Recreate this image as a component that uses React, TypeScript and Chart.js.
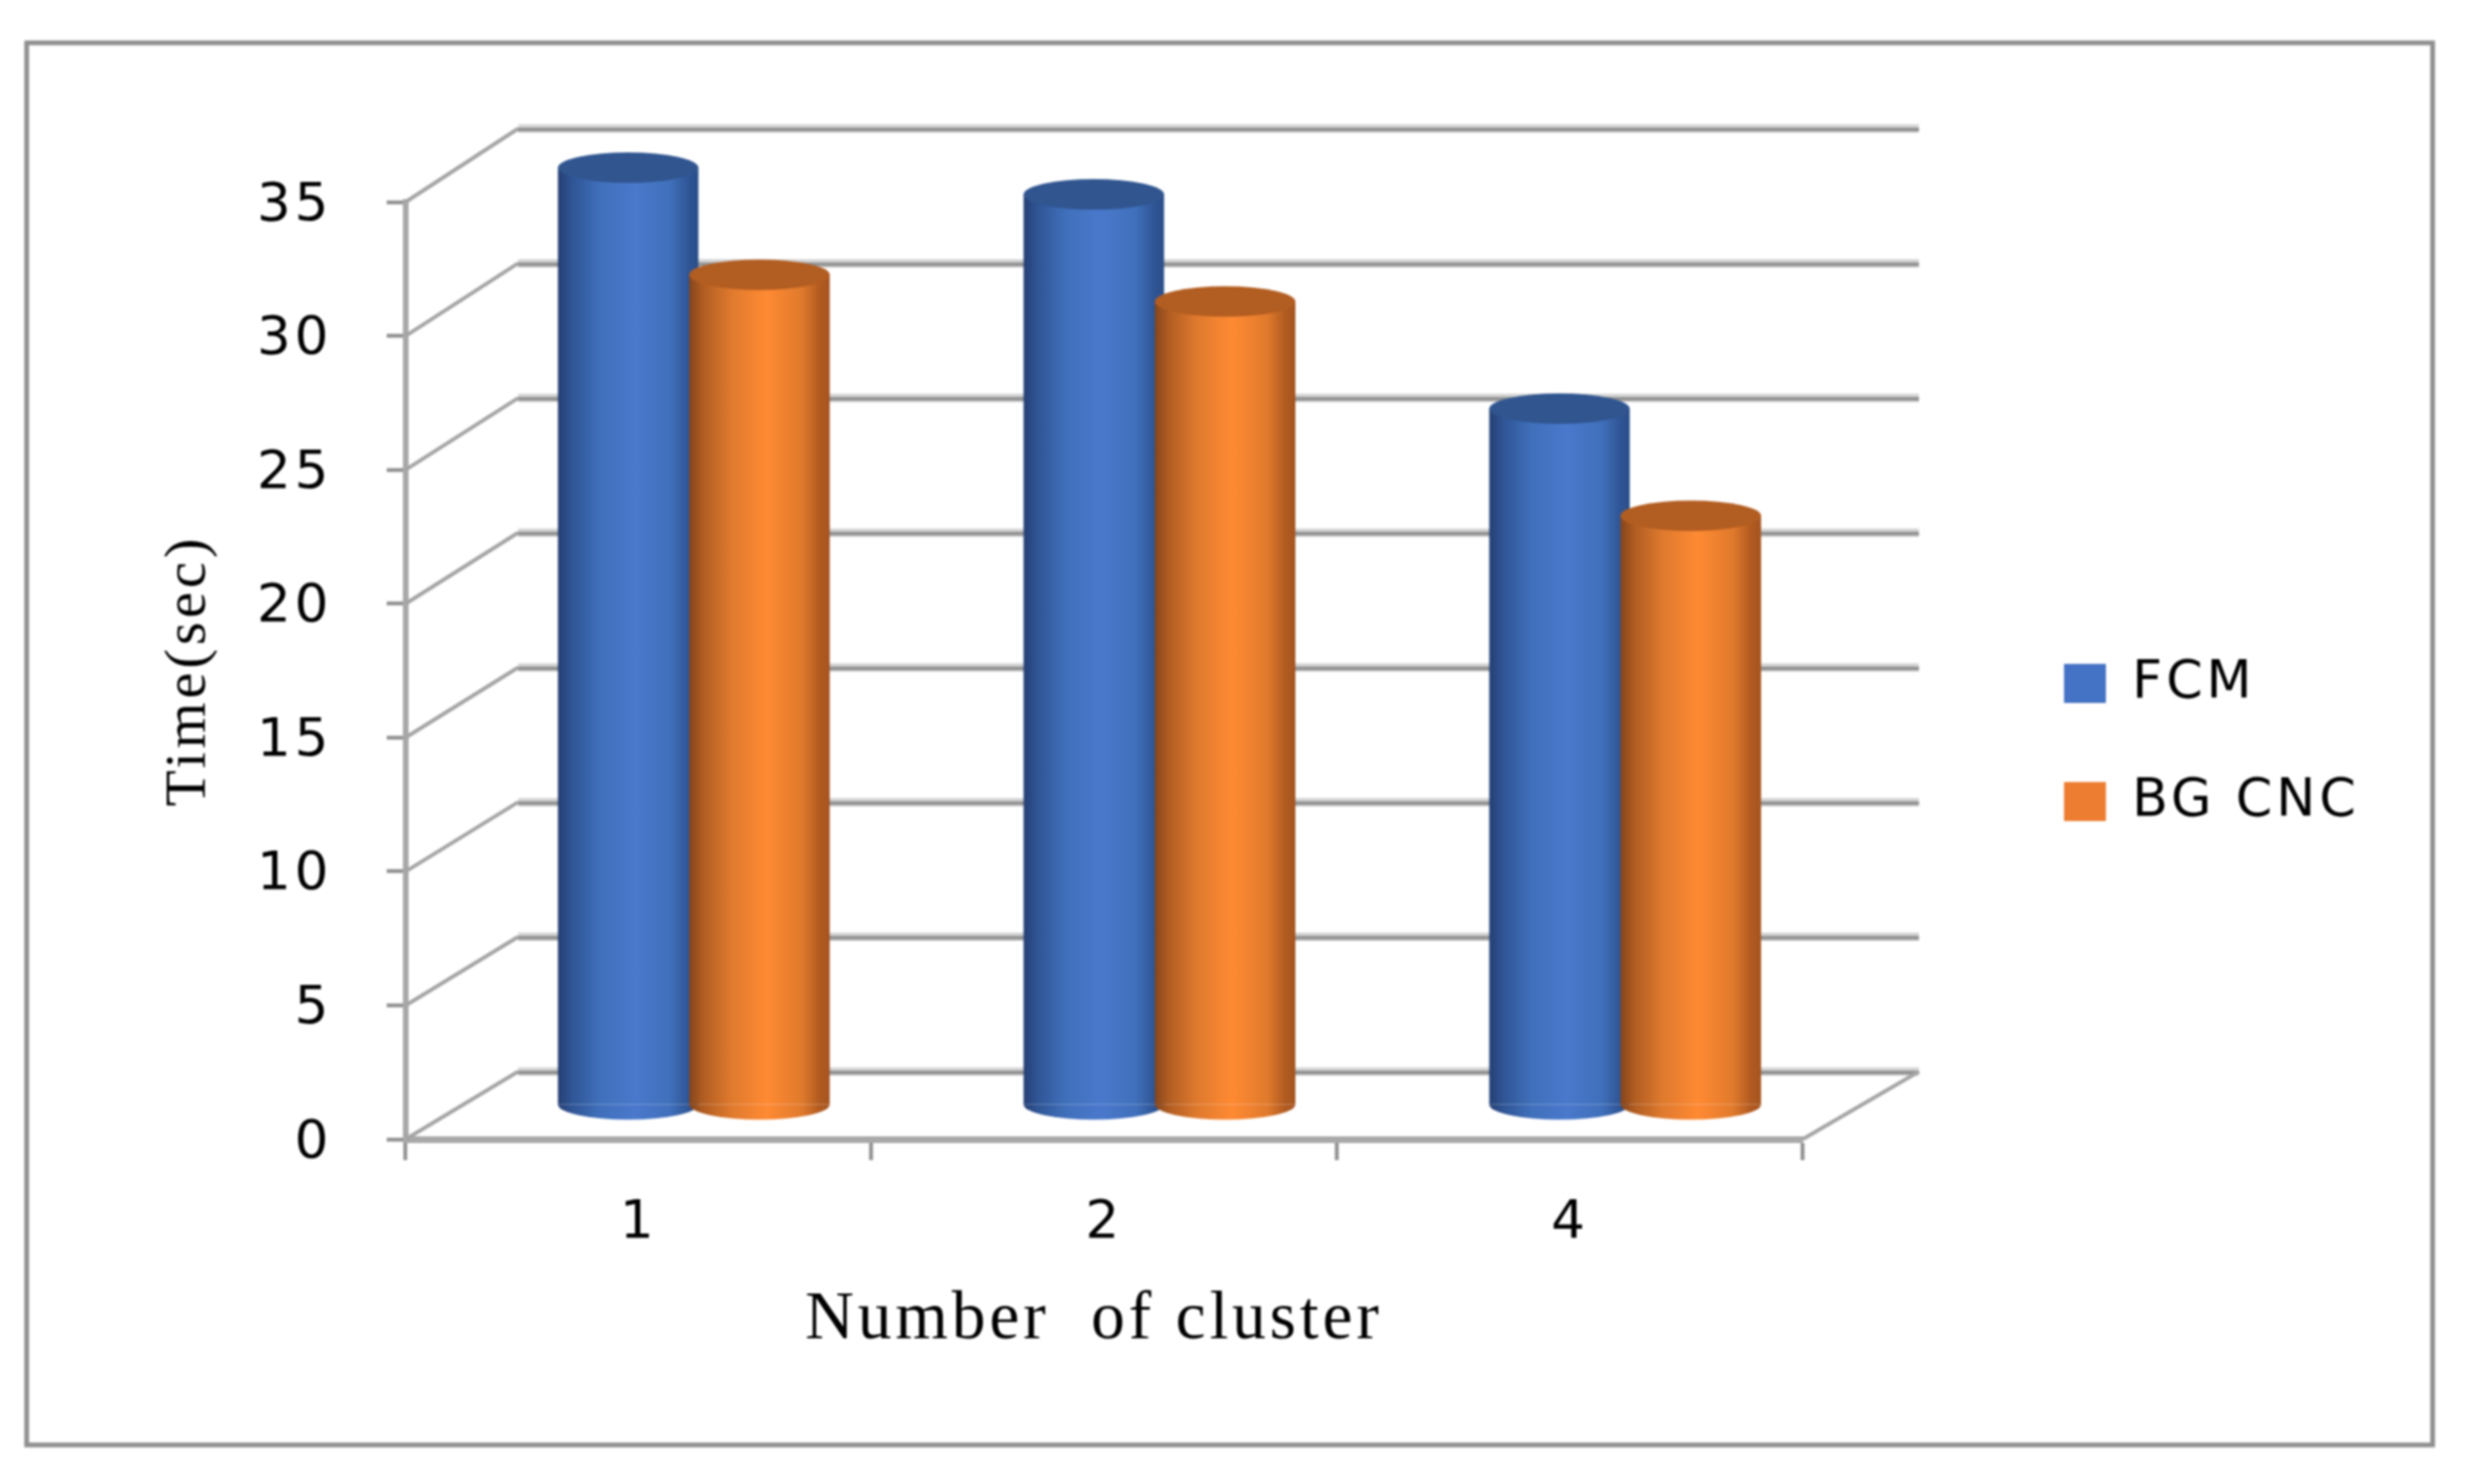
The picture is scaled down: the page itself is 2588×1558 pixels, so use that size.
import React, { useEffect, useRef } from "react";
import { Chart, registerables } from "chart.js";

Chart.register(...registerables);

const categories = ["1", "2", "4"];
const fcmValues = [35, 34, 26];
const bgcncValues = [31, 30, 22];
const seriesNames = ["FCM", "BG CNC"];
const yTicks = { min: 0, max: 35, step: 5 };

const SERIF = "'Liberation Serif', serif";
const SANS = "'DejaVu Sans', sans-serif";

const palettes = [
  {
    legend: "#4472c4",
    cap: "#30558f",
    stops: [
      [0, "#263f73"], [0.1, "#2f5595"], [0.3, "#4070bb"], [0.55, "#4a78cc"],
      [0.8, "#4070bb"], [0.93, "#2f5595"], [1, "#2b4e88"],
    ],
  },
  {
    legend: "#ed7d31",
    cap: "#b25d21",
    stops: [
      [0, "#85451c"], [0.1, "#b15d22"], [0.3, "#df7a2e"], [0.55, "#ff8a33"],
      [0.8, "#e07a2c"], [0.93, "#b05a20"], [1, "#a55420"],
    ],
  },
];

const depth = { dx: 58, dy: -36, capRy: 16 };
const wall = { dx: 118, dy: -71, dxRight: 122, stretch: 6 };

const threeD = {
  id: "threeD",
  beforeDraw(chart: any) {
    const { ctx, legend } = chart;
    ctx.letterSpacing = "4px";
    legend.left = 2098;
    legend.right = 2588;
    legend.top = 621;
    legend.bottom = 1000;
    ctx.save();
    ctx.strokeStyle = "#8f8f8f";
    ctx.lineWidth = 5;
    ctx.strokeRect(28, 45, 2526, 1472);
    ctx.restore();
  },
  beforeDatasetsDraw(chart: any) {
    const { ctx, chartArea: area, scales } = chart;
    ctx.save();
    const values: number[] = scales.y.ticks.map((t: any) => t.value);
    values.forEach((v) => {
      const y = scales.y.getPixelForValue(v);
      const wy = y + wall.dy - (wall.stretch * v) / yTicks.max;
      ctx.lineCap = "butt";
      ctx.strokeStyle = "#a4a4a4";
      ctx.lineWidth = 4;
      ctx.beginPath();
      ctx.moveTo(area.left, y);
      ctx.lineTo(area.left + wall.dx, wy);
      ctx.stroke();
      ctx.strokeStyle = "#d6d6d6";
      ctx.lineWidth = 9;
      ctx.beginPath();
      ctx.moveTo(area.left + wall.dx, wy);
      ctx.lineTo(area.right + wall.dxRight, wy);
      ctx.stroke();
      ctx.strokeStyle = "#929292";
      ctx.lineWidth = 4;
      ctx.beginPath();
      ctx.moveTo(area.left + wall.dx, wy + 1);
      ctx.lineTo(area.right + wall.dxRight, wy + 1);
      ctx.stroke();
    });
    const y0 = scales.y.getPixelForValue(0);
    ctx.strokeStyle = "#a4a4a4";
    ctx.lineWidth = 4;
    ctx.beginPath();
    ctx.moveTo(area.right, y0);
    ctx.lineTo(area.right + wall.dxRight, y0 + wall.dy);
    ctx.stroke();

    ctx.translate(depth.dx, depth.dy);
    [0, 1].forEach((di) => {
      const meta = chart.getDatasetMeta(di);
      const pal = palettes[di];
      const grads = meta.data.map((el: any) => {
        const g = ctx.createLinearGradient(el.x - el.width / 2, 0, el.x + el.width / 2, 0);
        pal.stops.forEach(([o, c]: any) => g.addColorStop(o, c));
        return g;
      });
      meta.data.forEach((el: any, i: number) => {
        const rx = el.width / 2;
        ctx.fillStyle = grads[i];
        ctx.beginPath();
        ctx.ellipse(el.x, el.base, rx, depth.capRy, 0, 0, Math.PI);
        ctx.fill();
        el.options = { ...el.options, backgroundColor: grads[i] };
      });
      meta.controller.draw();
      meta.data.forEach((el: any) => {
        ctx.fillStyle = pal.cap;
        ctx.beginPath();
        ctx.ellipse(el.x, el.y, el.width / 2, depth.capRy, 0, 0, Math.PI * 2);
        ctx.fill();
      });
    });
    ctx.restore();
    return false;
  },
};

export default function App() {
  const ref = useRef<HTMLCanvasElement>(null);
  useEffect(() => {
    const chart = new Chart(ref.current as HTMLCanvasElement, {
      type: "bar",
      data: {
        labels: categories,
        datasets: [
          {
            label: seriesNames[0],
            data: fcmValues,
            backgroundColor: palettes[0].legend,
            categoryPercentage: 0.564,
            barPercentage: 1.07,
          },
          {
            label: seriesNames[1],
            data: bgcncValues,
            backgroundColor: palettes[1].legend,
            categoryPercentage: 0.564,
            barPercentage: 1.07,
          },
        ],
      },
      options: {
        responsive: false,
        animation: false,
        layout: { padding: { left: 162, top: 212, right: 330, bottom: 129 } },
        plugins: {
          tooltip: { enabled: false },
          legend: {
            position: "right",
            align: "start",
            labels: {
              boxWidth: 44,
              boxHeight: 41,
              padding: 69,
              color: "#000000",
              font: { family: SANS, size: 55 },
            },
          },
        },
        scales: {
          x: {
            afterFit(scale: any) {
              scale.height = 233;
            },
            border: { color: "#a8a8a8", width: 7 },
            grid: {
              drawOnChartArea: false,
              tickColor: "#8f8f8f",
              tickWidth: 4,
              tickLength: 22,
            },
            ticks: {
              color: "#000000",
              padding: 33,
              font: { family: SANS, size: 56 },
            },
            title: {
              display: true,
              text: "Number  of cluster ",
              color: "#000000",
              padding: 0,
              font: { family: SERIF, size: 71 },
            },
          },
          y: {
            min: yTicks.min,
            max: yTicks.max,
            afterFit(scale: any) {
              scale.width = 264;
            },
            border: { color: "#a8a8a8", width: 6 },
            grid: {
              drawOnChartArea: false,
              tickColor: "#8f8f8f",
              tickWidth: 4,
              tickLength: 20,
            },
            ticks: {
              stepSize: yTicks.step,
              color: "#000000",
              padding: 57,
              labelOffset: 4,
              font: { family: SANS, size: 56 },
            },
            title: {
              display: true,
              text: "Time(sec)",
              color: "#000000",
              padding: 0,
              font: { family: SERIF, size: 62 },
            },
          },
        },
      },
      plugins: [threeD],
    } as any);
    return () => chart.destroy();
  }, []);
  return (
    <canvas
      ref={ref}
      width={2588}
      height={1558}
      style={{ position: "absolute", left: 0, top: 0, display: "block", filter: "blur(0.8px)" }}
    />
  );
}
